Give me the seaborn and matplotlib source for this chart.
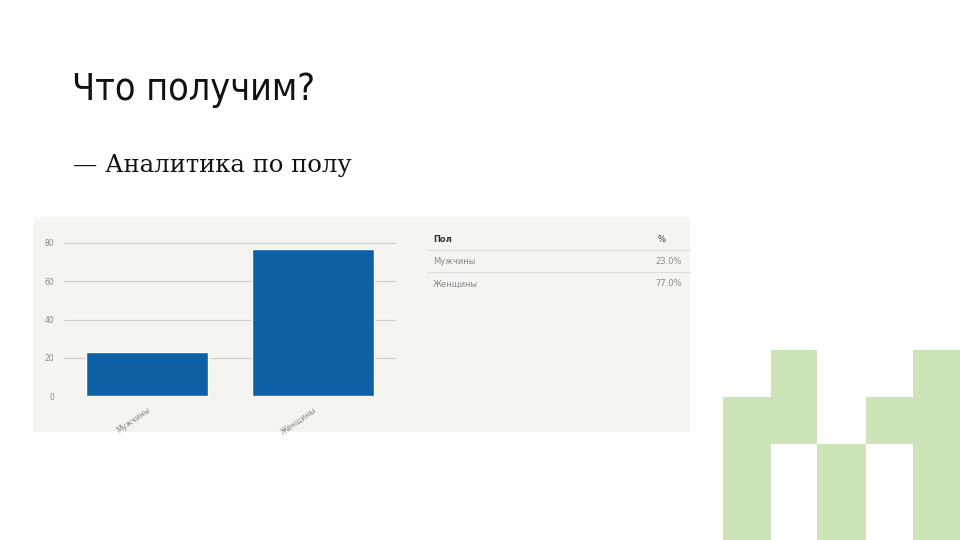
import matplotlib
matplotlib.use("Agg")
import matplotlib.pyplot as plt
from matplotlib.patches import Rectangle
import pandas as pd
import seaborn as sns

# data
categories = ["Мужчины", "Женщины"]
values = [23.0, 77.0]
y_ticks = [0, 20, 40, 60, 80]
table_header = ["Пол", "%"]

title = "Что получим?"
subtitle = "— Аналитика по полу"

W, H = 960, 540

sns.set_theme(style="white")
plt.rcParams['font.family'] = ['DejaVu Sans']

fig = plt.figure(figsize=(9.6, 5.4), dpi=100)
fig.patch.set_facecolor("white")


def fx(px):
    return px / W


def fy(py):
    return 1 - py / H


# panel behind the screenshot-like chart
panel_bg = "#f4f4f0"
fig.patches.append(Rectangle((fx(33), fy(432)), fx(657), 215 / H, transform=fig.transFigure,
                             facecolor=panel_bg, edgecolor="none", zorder=-5))
fig.patches.append(Rectangle((fx(33), fy(222)), fx(657), 5 / H, transform=fig.transFigure,
                             facecolor="#f8f8f6", edgecolor="none", zorder=-5))

# green decoration bottom right
green = "#cde3b8"
deco = [(723, 397, 48, 143), (771, 350, 46, 94), (817, 444, 49, 96),
        (866, 397, 47, 47), (913, 350, 47, 190)]
for x0, y0, w, h in deco:
    fig.patches.append(Rectangle((fx(x0), fy(y0 + h)), fx(w), h / H, transform=fig.transFigure,
                                 facecolor=green, edgecolor="none", zorder=-5))

# titles
fig.text(fx(72), fy(100), title, fontsize=27, family=["DejaVu Sans"], fontstretch="condensed",
         color="#111111", ha="left", va="baseline")
fig.text(fx(73), fy(172), subtitle, fontsize=17.5, family=["DejaVu Serif"],
         color="#111111", ha="left", va="baseline")

# bar chart
df = pd.DataFrame({"gender": categories, "pct": values})
ax = fig.add_axes([fx(64), fy(396), fx(396 - 64), (396 - 243) / H])
ax.set_zorder(2)
ax.set_facecolor(panel_bg)
sns.barplot(data=df, x="gender", y="pct", color="#0d61a5", width=0.74, saturation=1, ax=ax, zorder=3)
ax.set_xlim(-0.5, 1.5)
ax.set_ylim(0, 80)
ax.set_yticks(y_ticks)
ax.set_yticklabels([str(t) for t in y_ticks], fontsize=5.5, color="#888888")
ax.yaxis.grid(True, color="#cfcfcf", linewidth=0.8)
ax.set_axisbelow(True)
for s in ax.spines.values():
    s.set_visible(False)
ax.tick_params(axis="y", length=0, pad=7)
ax.tick_params(axis="x", length=0, pad=7)
ax.set_xticks(range(len(categories)))
ax.set_xticklabels(categories, rotation=35, ha="right", rotation_mode="anchor",
                   fontsize=5.5, color="#888888")
ax.set_xlabel("")
ax.set_ylabel("")

# table on the right
fig.text(fx(433), fy(239), table_header[0], fontsize=6, color="#333333", weight="bold", va="center")
fig.text(fx(657), fy(239), table_header[1], fontsize=6, color="#333333", va="center")
row_y = [262, 284]
for cat, v, yy in zip(categories, values, row_y):
    fig.text(fx(433), fy(yy), cat, fontsize=6, color="#888888", va="center")
    fig.text(fx(682), fy(yy), f"{v:.1f}%", fontsize=6, color="#888888", va="center", ha="right")
for yy in [250, 272]:
    fig.add_artist(plt.Line2D([fx(427), fx(690)], [fy(yy), fy(yy)], transform=fig.transFigure,
                              color="#dddddd", linewidth=0.8))

fig.savefig("out.png", dpi=100)
